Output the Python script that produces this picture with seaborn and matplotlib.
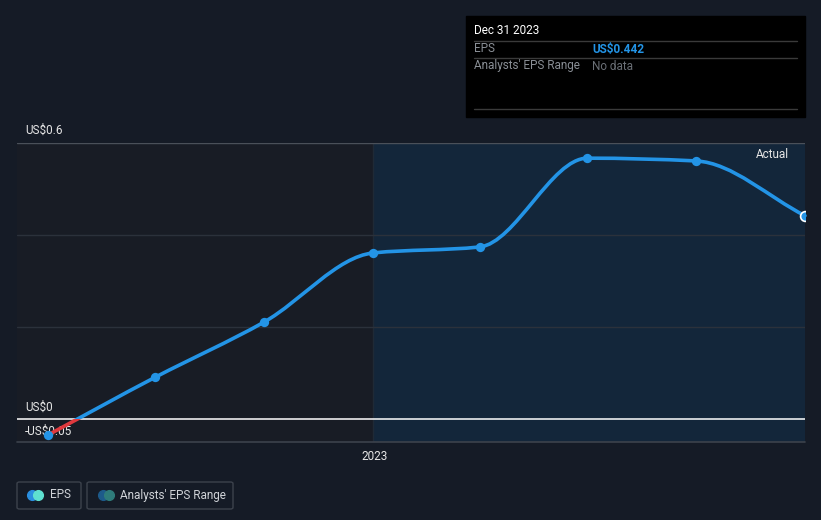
import numpy as np
import pandas as pd
import matplotlib
matplotlib.use("Agg")
import matplotlib.pyplot as plt
import matplotlib.dates as mdates
from matplotlib.path import Path
from matplotlib.patches import PathPatch, Rectangle, FancyBboxPatch
import seaborn as sns

# ---- data ----
dates = ["2022-03-31", "2022-06-30", "2022-09-30", "2022-12-31",
         "2023-03-31", "2023-06-30", "2023-09-30", "2023-12-31"]
eps = [-0.035, 0.091, 0.211, 0.361, 0.374, 0.567, 0.561, 0.442]
ytick_vals = [0.6, 0.0, -0.05]
ytick_labels = ["US$0.6", "US$0", "-US$0.05"]
grid_vals = [0.2, 0.4, 0.6]
xtick_label = "2023"

BG = "#151b26"
BLUE = "#2394e6"
RED = "#e0393e"

sns.set_theme(style="dark")
plt.rcParams["font.family"] = ["Roboto", "DejaVu Sans"]

df = pd.DataFrame({"date": pd.to_datetime(dates), "eps": eps})
df["x"] = mdates.date2num(df["date"])

fig = plt.figure(figsize=(8.21, 5.2), dpi=100, facecolor=BG)
W, H = 821, 520
ax = fig.add_axes([17 / W, (H - 442) / H, (805 - 17) / W, (442 - 143) / H])
ax.set_facecolor("#181c25")

x0 = mdates.date2num(pd.Timestamp("2022-03-05"))
x1 = df["x"].iloc[-1]
ax.set_xlim(x0, x1)
ax.set_ylim(-0.05, 0.6)

# shaded past-year region
split = mdates.date2num(pd.Timestamp("2022-12-31"))
ax.axvspan(split, x1, color="#13263a", zorder=0, lw=0)
ax.axvline(split, color="#1f2a36", lw=1, zorder=0.5)

for g in grid_vals:
    ax.axhline(g, color="#4a5059" if g == 0.6 else "#2b313b", lw=1, zorder=1)
ax.axhline(0, color="#ffffff", lw=1.1, zorder=2)
ax.axhline(-0.05, color="#3c424c", lw=1.2, zorder=2, clip_on=False)

# monotone cubic bezier path through the data
xs = df["x"].to_numpy(float)
ys = df["eps"].to_numpy(float)
n = len(xs)
h = np.diff(xs)
d = np.diff(ys) / h
m = np.zeros(n)
m[0] = d[0]
m[-1] = d[-1]
for i in range(1, n - 1):
    if d[i - 1] * d[i] <= 0:
        m[i] = 0
    else:
        w1 = 2 * h[i] + h[i - 1]
        w2 = h[i] + 2 * h[i - 1]
        m[i] = (w1 + w2) / (w1 / d[i - 1] + w2 / d[i])
verts = [(xs[0], ys[0])]
codes = [Path.MOVETO]
for i in range(n - 1):
    verts += [(xs[i] + h[i] / 3, ys[i] + m[i] * h[i] / 3),
              (xs[i + 1] - h[i] / 3, ys[i + 1] - m[i + 1] * h[i] / 3),
              (xs[i + 1], ys[i + 1])]
    codes += [Path.CURVE4] * 3
path = Path(verts, codes)

pos = PathPatch(path, fill=False, ec=BLUE, lw=2.6, zorder=3, capstyle="round")
ax.add_patch(pos)
pos.set_clip_path(Rectangle((x0 - 100, 0), 2000, 1, transform=ax.transData))
neg = PathPatch(path, fill=False, ec=RED, lw=2.6, zorder=3, capstyle="round")
ax.add_patch(neg)
neg.set_clip_path(Rectangle((x0 - 100, -1), 2000, 1, transform=ax.transData))

sns.scatterplot(data=df.iloc[:-1], x="x", y="eps", ax=ax, color=BLUE, s=45,
                edgecolor=BLUE, linewidth=0, zorder=4, legend=False, clip_on=False)
sns.scatterplot(data=df.iloc[-1:], x="x", y="eps", ax=ax, color=BLUE, s=50,
                edgecolor="white", linewidth=1.2, zorder=4, legend=False)

ax.set_xlabel("")
ax.set_ylabel("")
ax.set_yticks([])
ax.set_xticks([mdates.date2num(pd.Timestamp("2023-01-01"))])
ax.set_xticklabels([xtick_label], color="#e6e6e6", fontsize=8.5)
ax.tick_params(axis="x", length=4, color="#3c424c", pad=1.5)
for s in ax.spines.values():
    s.set_visible(False)

# y labels inside plot
tr = ax.get_yaxis_transform()
offs = {0.6: 0.028, 0.0: 0.026, -0.05: 0.024}
for v, lab in zip(ytick_vals, ytick_labels):
    ax.text(8 / 788, v + offs[v], lab, transform=tr, color="#e6e6e6",
            fontsize=8.5, va="center", ha="left", zorder=2.5, clip_on=False)

ax.text(0.98, 0.963, "Actual", transform=ax.transAxes, color="#e6e6e6",
        fontsize=8.5, ha="right", va="center", zorder=5)

# tooltip box
def fx(px):
    return px / W

def fy(py):
    return 1 - py / H

fig.patches.append(Rectangle((fx(466), fy(117)), fx(805) - fx(466), fy(16) - fy(117),
                             transform=fig.transFigure, color="#000000", zorder=10))
for yy in (41, 58, 109):
    fig.add_artist(plt.Line2D([fx(474), fx(797)], [fy(yy), fy(yy)], color="#3a3a3a",
                              lw=1, transform=fig.transFigure, zorder=11))
fig.text(fx(474), fy(30.5), "Dec 31 2023", color="#ffffff", fontsize=8.5,
         va="center", zorder=12)
fig.text(fx(474), fy(49), "EPS", color="#8a8f96", fontsize=8.5, va="center", zorder=12)
fig.text(fx(592), fy(49), "US$0.442", color=BLUE, fontsize=8.5, va="center",
         fontweight="bold", zorder=12)
fig.text(fx(474), fy(66), "Analysts' EPS Range", color="#8a8f96", fontsize=8.5,
         va="center", zorder=12)
fig.text(fx(592), fy(66), "No data", color="#6a6f76", fontsize=8.5, va="center", zorder=12)

# legend boxes
for (bx0, bx1) in ((17, 81), (87, 233)):
    fig.patches.append(FancyBboxPatch((fx(bx0), fy(509)), fx(bx1) - fx(bx0), fy(482) - fy(509),
                                      boxstyle="round,pad=0,rounding_size=0.003",
                                      transform=fig.transFigure, fc="none",
                                      ec="#3c424c", lw=1))
fig.add_artist(plt.Line2D([fx(32)], [fy(495)], marker="o", ms=7, color="#2a8fe0",
                          transform=fig.transFigure, lw=0))
fig.add_artist(plt.Line2D([fx(38)], [fy(495)], marker="o", ms=7, color="#5ee0d0",
                          transform=fig.transFigure, lw=0))
fig.text(fx(50), fy(495), "EPS", color="#d0d3d8", fontsize=8.5, va="center")
fig.add_artist(plt.Line2D([fx(103)], [fy(495)], marker="o", ms=7, color="#1d5a8a",
                          transform=fig.transFigure, lw=0))
fig.add_artist(plt.Line2D([fx(109)], [fy(495)], marker="o", ms=7, color="#2e7b7a",
                          transform=fig.transFigure, lw=0))
fig.text(fx(120), fy(495), "Analysts' EPS Range", color="#d0d3d8", fontsize=8.5, va="center")

fig.savefig("out.png", dpi=100, facecolor=BG)
